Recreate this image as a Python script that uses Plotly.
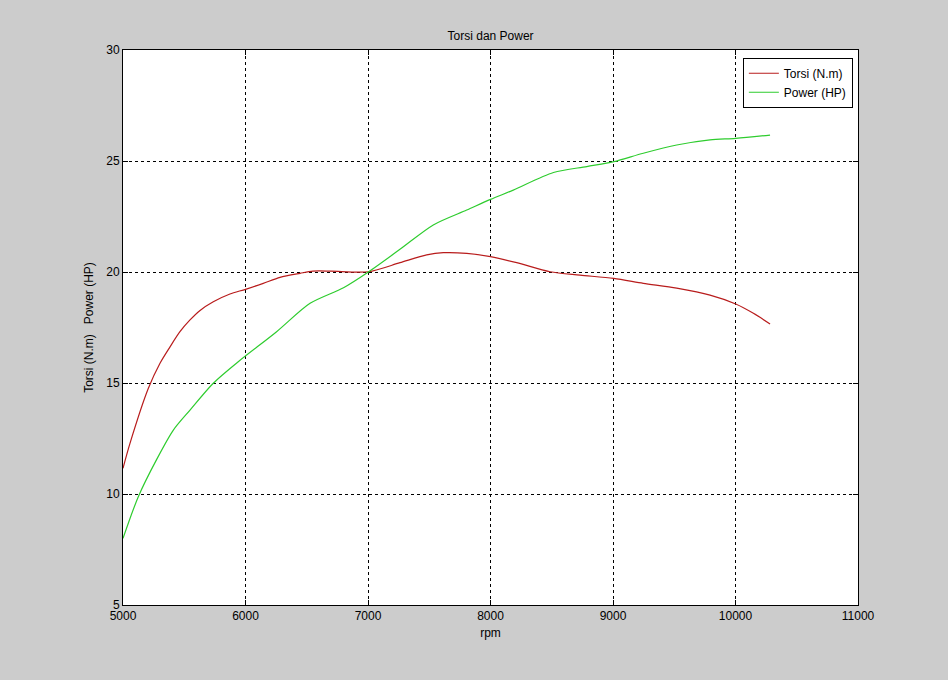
import plotly.graph_objects as go

rpm_torsi = [5000, 5057, 5207, 5302, 5384, 5465, 5547, 5629, 5737, 5873, 6000, 6145,
             6282, 6445, 6550, 6700, 7003, 7261, 7479, 7615, 7806, 8000, 8214, 8486,
             8731, 9006, 9247, 9520, 9792, 10002, 10146, 10282]
torsi = [11.16, 12.28, 14.76, 15.89, 16.63, 17.31, 17.84, 18.27, 18.66, 19.01, 19.22, 19.49,
         19.76, 19.94, 20.04, 20.04, 20.01, 20.42, 20.77, 20.87, 20.84, 20.69, 20.42, 20.01,
         19.86, 19.71, 19.49, 19.27, 18.96, 18.56, 18.14, 17.66]

rpm_power = [5000, 5125, 5275, 5411, 5547, 5737, 5941, 6254, 6527, 6800, 7003,
             7261, 7533, 7806, 8000, 8186, 8514, 8786, 9006, 9247, 9520, 9792,
             10002, 10282]
power = [8.0, 9.88, 11.56, 12.88, 13.78, 14.99, 15.96, 17.31, 18.59, 19.29, 20.0,
         21.02, 22.12, 22.79, 23.27, 23.69, 24.48, 24.75, 24.97, 25.35, 25.72, 25.95,
         26.02, 26.17]

x_ticks = [5000, 6000, 7000, 8000, 9000, 10000, 11000]
y_ticks = [5, 10, 15, 20, 25, 30]

FONT = "Liberation Sans, Arial, sans-serif"

fig = go.Figure()
fig.add_trace(go.Scatter(x=rpm_torsi, y=torsi, mode="lines", name="Torsi (N.m)",
                         line=dict(color="#b81c1c", width=1.2, shape="spline", smoothing=0.8)))
fig.add_trace(go.Scatter(x=rpm_power, y=power, mode="lines", name="Power (HP)",
                         line=dict(color="#2ecc2e", width=1.2, shape="spline", smoothing=0.8)))

axis_common = dict(
    showline=True, linecolor="black", linewidth=1, mirror="allticks",
    ticks="inside", ticklen=5, tickcolor="black",
    showgrid=True, gridcolor="black", gridwidth=1, griddash="3px,3px",
    zeroline=False, tickfont=dict(family=FONT, size=12, color="black"),
)

fig.update_xaxes(range=[5000, 11000], tickvals=x_ticks, ticktext=[str(v) for v in x_ticks],
                 title=dict(text="rpm", font=dict(family=FONT, size=12, color="black"), standoff=6),
                 **axis_common)
fig.update_yaxes(range=[5, 30], tickvals=y_ticks, ticktext=[str(v) for v in y_ticks],
                 title=dict(text="Torsi (N.m)   Power (HP)", font=dict(family=FONT, size=12, color="black"),
                            standoff=10),
                 **axis_common)

fig.update_layout(
    width=948, height=680,
    margin=dict(l=123, r=90, t=50, b=75),
    paper_bgcolor="#cccccc", plot_bgcolor="white",
    title=dict(text="Torsi dan Power", x=0.5175, xanchor="center", y=1 - 36 / 680, yanchor="middle",
               font=dict(family=FONT, size=12, color="black")),
    legend=dict(x=0.993, y=0.986, xanchor="right", yanchor="top", bgcolor="white",
                bordercolor="black", borderwidth=1,
                font=dict(family=FONT, size=12, color="black"), tracegroupgap=0),
    showlegend=True,
)

fig.write_html("out.html", config={"displayModeBar": False},
               post_script="document.body.style.margin='0';document.body.style.background='#cccccc';")
